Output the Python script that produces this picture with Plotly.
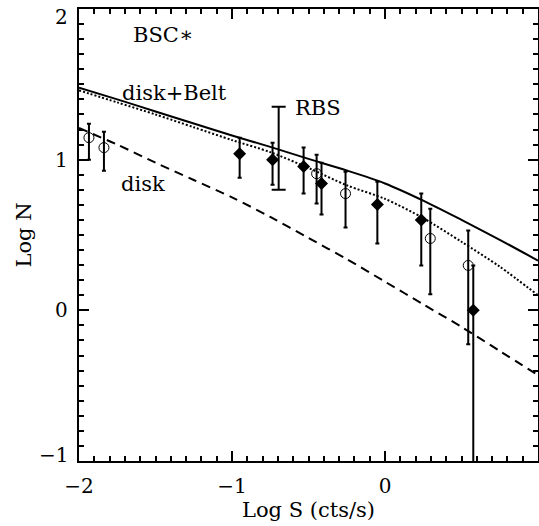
import plotly.graph_objects as go

# ---- model curves (Log S grid) ----
curve_x = [-2.0, -1.75, -1.5, -1.25, -1.0, -0.75, -0.5, -0.25, 0.0, 0.25, 0.5, 0.75, 1.0]
disk_belt = [1.478, 1.40, 1.32, 1.24, 1.16, 1.085, 1.005, 0.928, 0.842, 0.728, 0.60, 0.468, 0.33]
disk_belt_dotted = [1.46, 1.38, 1.30, 1.215, 1.13, 1.05, 0.945, 0.83, 0.74, 0.612, 0.455, 0.29, 0.10]
disk = [1.21, 1.10, 0.98, 0.865, 0.75, 0.62, 0.48, 0.34, 0.19, 0.04, -0.11, -0.27, -0.43]

# ---- BSC data (open circles) ----
bsc_x = [-1.935, -1.837, -0.447, -0.258, 0.296, 0.544]
bsc_y = [1.146, 1.08, 0.907, 0.775, 0.477, 0.298]
bsc_hi = [1.238, 1.185, 1.033, 0.92, 0.675, 0.53]
bsc_lo = [1.0, 0.927, 0.709, 0.55, 0.106, -0.225]

# ---- RBS data (filled diamonds) ----
rbs_x = [-0.95, -0.735, -0.532, -0.415, -0.05, 0.237, 0.577]
rbs_y = [1.04, 1.0, 0.954, 0.841, 0.702, 0.60, 0.0]
rbs_hi = [1.146, 1.113, 1.08, 0.98, 0.854, 0.775, 0.298]
rbs_lo = [0.88, 0.834, 0.775, 0.636, 0.444, 0.298, -1.3]

# ---- representative RBS error bar ----
rep_x = [-0.695]
rep_y = [1.075]
rep_hi = [1.351]
rep_lo = [0.80]

# ---- text labels ----
label_text = ["BSC∗", "disk+Belt", "disk", "RBS"]
label_x = [-1.45, -1.373, -1.58, -0.44]
label_y = [1.83, 1.44, 0.84, 1.34]

# ---- y tick labels ----
ytick_vals = [-1, 0, 1, 2]
ytick_text = ["−1", "0", "1", "2"]

FONT = "DejaVu Serif"

fig = go.Figure()

fig.add_trace(go.Scatter(x=curve_x, y=disk_belt, mode="lines",
                         line=dict(color="black", width=2, shape="spline", smoothing=0.8), hoverinfo="skip"))
fig.add_trace(go.Scatter(x=curve_x, y=disk_belt_dotted, mode="lines",
                         line=dict(color="black", width=2, dash="2px,2px", shape="spline", smoothing=0.8),
                         hoverinfo="skip"))
fig.add_trace(go.Scatter(x=curve_x, y=disk, mode="lines",
                         line=dict(color="black", width=2, dash="9px,6px", shape="spline", smoothing=0.8),
                         hoverinfo="skip"))

def errs(y, hi, lo):
    return [h - v for v, h in zip(y, hi)], [v - l for v, l in zip(y, lo)]

up, dn = errs(bsc_y, bsc_hi, bsc_lo)
fig.add_trace(go.Scatter(x=bsc_x, y=bsc_y, mode="markers",
                         marker=dict(symbol="circle-open", size=10, color="black", line=dict(width=1)),
                         error_y=dict(type="data", symmetric=False, array=up, arrayminus=dn,
                                      color="black", thickness=2, width=2)))

up, dn = errs(rbs_y, rbs_hi, rbs_lo)
fig.add_trace(go.Scatter(x=rbs_x, y=rbs_y, mode="markers",
                         marker=dict(symbol="diamond", size=10, color="black"),
                         error_y=dict(type="data", symmetric=False, array=up, arrayminus=dn,
                                      color="black", thickness=2, width=2)))

up, dn = errs(rep_y, rep_hi, rep_lo)
fig.add_trace(go.Scatter(x=rep_x, y=rep_y, mode="markers",
                         marker=dict(size=2, color="rgba(0,0,0,0)"),
                         error_y=dict(type="data", symmetric=False, array=up, arrayminus=dn,
                                      color="black", thickness=2, width=7)))

for txt, lx, ly in zip(label_text, label_x, label_y):
    fig.add_annotation(x=lx, y=ly, text=txt, showarrow=False,
                       font=dict(family=FONT, size=21, color="black"))

# y tick labels kept inside the page (top/bottom ones nudged inward as in the original)
for v, t in zip(ytick_vals, ytick_text):
    shift = -8 if v == max(ytick_vals) else (6 if v == min(ytick_vals) else 0)
    fig.add_annotation(xref="paper", x=0, y=v, text=t, showarrow=False, xanchor="right",
                       xshift=-9, yshift=shift, font=dict(family=FONT, size=20, color="black"))

axis_common = dict(showgrid=False, zeroline=False, showline=True, linecolor="black", linewidth=2,
                   mirror="allticks", ticks="inside", ticklen=10, tickwidth=1.5, tickcolor="black",
                   automargin=False,
                   tickfont=dict(family=FONT, size=20, color="black"),
                   minor=dict(dtick=0.1, ticks="inside", ticklen=5, tickwidth=1.5, tickcolor="black"))

fig.update_xaxes(range=[-2, 1], tickvals=[-2, -1, 0], ticklabelstandoff=6,
                 title=dict(text="Log S (cts/s)", font=dict(family=FONT, size=21, color="black"), standoff=0),
                 **axis_common)
fig.update_yaxes(range=[-1, 2], tickvals=ytick_vals, showticklabels=False,
                 title=dict(text="Log N", font=dict(family=FONT, size=21, color="black"), standoff=40),
                 **axis_common)

fig.update_layout(width=539, height=526, margin=dict(l=79, r=1, t=9, b=65),
                  plot_bgcolor="white", paper_bgcolor="white", showlegend=False)

fig.write_html("out.html", config={"displayModeBar": False},
               post_script="document.body.style.margin='0';document.body.style.overflow='hidden';")
